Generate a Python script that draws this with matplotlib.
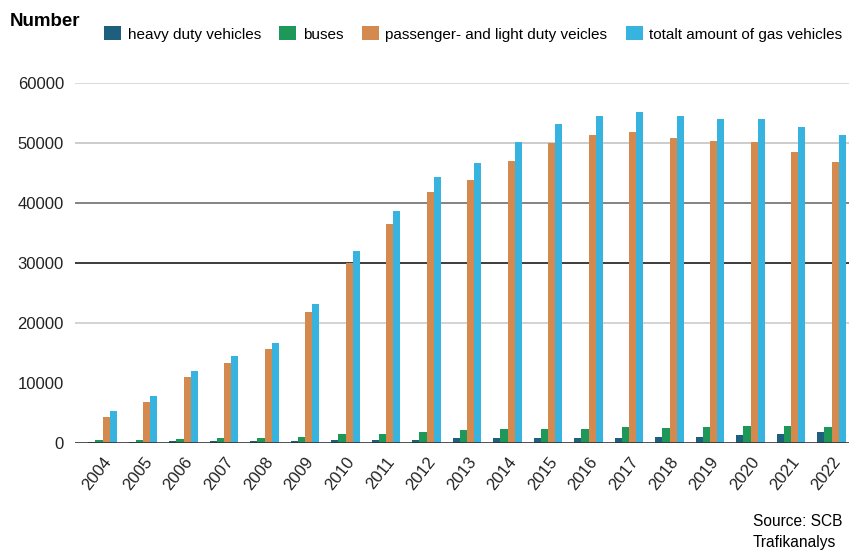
import numpy as np
import matplotlib.pyplot as plt

plt.rcParams['font.family'] = ['Liberation Sans', 'DejaVu Sans']

years = [str(y) for y in range(2004, 2023)]
heavy = [150, 200, 300, 300, 330, 350, 550, 560, 580, 800, 820, 830, 830, 850, 950, 1060, 1280, 1500, 1900]
buses = [500, 550, 750, 780, 780, 1000, 1500, 1500, 1850, 2150, 2380, 2390, 2400, 2600, 2580, 2600, 2800, 2800, 2600]
passenger = [4400, 6900, 11050, 13300, 15600, 21800, 29950, 36450, 41900, 43800, 46950, 50050,
             51300, 51800, 50900, 50400, 50100, 48500, 46800]
total = [5330, 7830, 12050, 14500, 16720, 23170, 32050, 38670, 44280, 46720, 50110, 53170,
         54560, 55220, 54440, 54060, 54060, 52720, 51280]

series = [
    ('heavy duty vehicles', heavy, '#1d5f7c'),
    ('buses', buses, '#1e9858'),
    ('passenger- and light duty veicles', passenger, '#d4894f'),
    ('totalt amount of gas vehicles', total, '#36b4df'),
]

# horizontal reference lines and their colours
grid_vals = [20000, 30000, 40000, 50000, 60000]
grid_cols = ['#cccccc', '#1a1a1a', '#6e6e6e', '#c4c4c4', '#d4d4d4']

fig = plt.figure(figsize=(8.49, 5.54), dpi=100)
ax = fig.add_axes([75 / 849, 1 - 443 / 554, 1 - 75 / 849, 360 / 554])

x = np.arange(len(years))
w = 0.175
for i, (name, vals, col) in enumerate(series):
    ax.bar(x + (i - 1.5) * w, vals, w, color=col, label=name, zorder=3)

for v, c in zip(grid_vals, grid_cols):
    ax.axhline(v, color=c, lw=1.2, zorder=1)
ax.axhline(0, color='#333333', lw=1.2, zorder=4)

ax.set_ylim(0, 60000)
ax.set_xlim(-0.68, 18.43)
ax.set_yticks(range(0, 60001, 10000))
ax.set_yticklabels([str(v) for v in range(0, 60001, 10000)], fontsize=12, color='#222222')
ax.set_xticks(x)
ax.set_xticklabels(years, rotation=52, ha='right', rotation_mode='anchor', fontsize=12, color='#222222')
ax.tick_params(axis='both', length=0)
ax.tick_params(axis='y', pad=8)
ax.tick_params(axis='x', pad=8)
for s in ax.spines.values():
    s.set_visible(False)

fig.text(10 / 849, 1 - 21 / 554, 'Number', fontsize=13.5, fontweight='bold', va='center', ha='left')
ax.legend(ncol=4, loc='center left', bbox_to_anchor=(104 / 849, 1 - 34 / 554), bbox_transform=fig.transFigure,
          frameon=False, fontsize=11, handlelength=1.1, handleheight=1.0, handletextpad=0.45,
          columnspacing=1.2, borderaxespad=0, borderpad=0)

fig.text(753 / 849, 1 - 522 / 554, 'Source: SCB', fontsize=11.2, va='center', ha='left')
fig.text(753 / 849, 1 - 542 / 554, 'Trafikanalys', fontsize=11.2, va='center', ha='left')

fig.savefig('out.png', dpi=100)
